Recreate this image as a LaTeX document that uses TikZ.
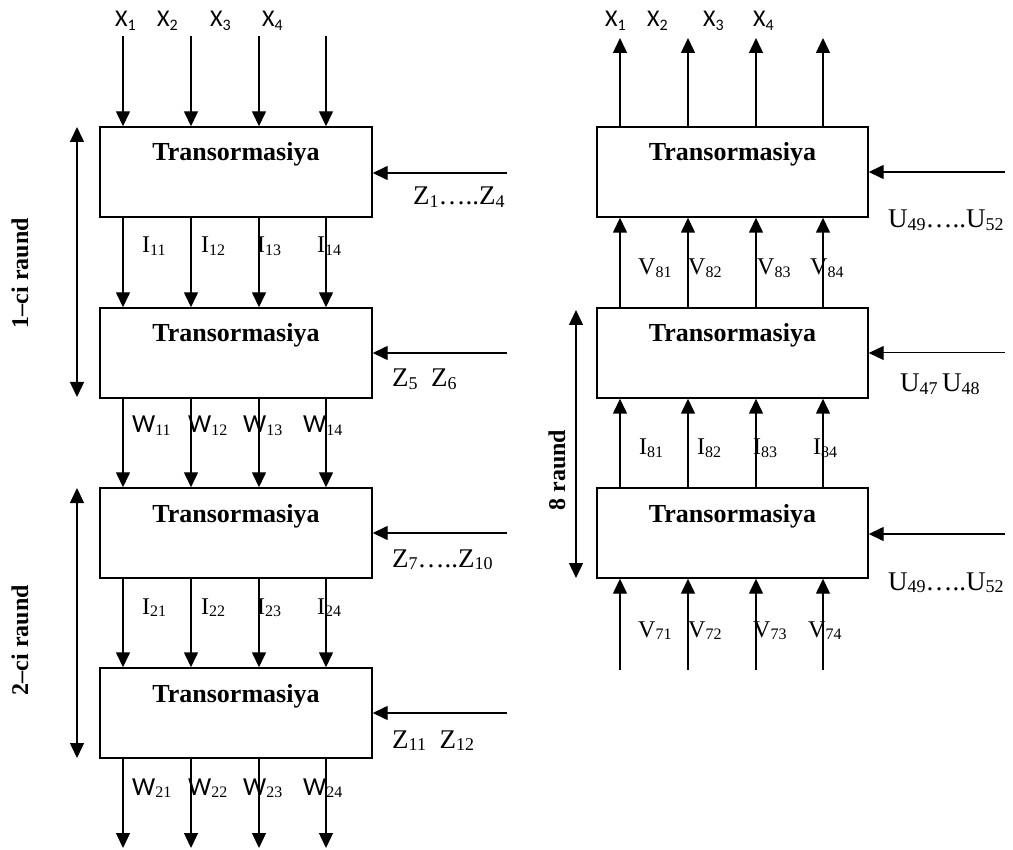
\documentclass[tikz,border=0pt]{standalone}
\usepackage{fontspec}
\setmainfont{Liberation Serif}
\newfontfamily\carl{Carlito}
\usetikzlibrary{arrows.meta}
\newcommand\subl[1]{{\fontsize{16}{16}\selectfont\raisebox{-2.5pt}{#1}}}
\newcommand\subz[1]{{\fontsize{18}{18}\selectfont\raisebox{-2.5pt}{#1}}}
\newcommand\subx[1]{{\fontsize{16}{16}\selectfont\raisebox{-3.5pt}{#1}}}
\begin{document}
\begin{tikzpicture}[x=1pt,y=-1pt,
  box/.style={draw, line width=1.4pt, minimum width=272pt, minimum height=90pt, inner sep=0pt},
  ttl/.style={font=\fontsize{26}{26}\selectfont\bfseries, anchor=base, inner sep=0pt},
  arr/.style={line width=1.4pt, -{Triangle[length=15pt,width=14pt]}},
  darr/.style={line width=1.4pt, {Triangle[length=15pt,width=14pt]}-{Triangle[length=15pt,width=14pt]}},
  lbl/.style={font=\fontsize{24}{24}\selectfont, anchor=base west, inner sep=0pt},
  zl/.style={font=\fontsize{27}{27}\selectfont, anchor=base west, inner sep=0pt},
  xl/.style={font=\carl\fontsize{24}{24}\selectfont, anchor=base west, inner sep=0pt},
  rnd/.style={font=\fontsize{24}{24}\selectfont\bfseries, rotate=90, inner sep=0pt}]
\useasboundingbox (0,0) rectangle (1013,850);

% ---------- left column boxes ----------
\node[box] (L1) at (236,172) {};
\node[box] (L2) at (236,353) {};
\node[box] (L3) at (236,533) {};
\node[box] (L4) at (236,713) {};
\node[ttl] (tL1) at (236,161) {Transormasiya};
\node[ttl] (tL2) at (236,342) {Transormasiya};
\node[ttl] (tL3) at (236,522) {Transormasiya};
\node[ttl] (tL4) at (236,702) {Transormasiya};

% columns
\coordinate (c1) at (123,36);
\coordinate (c2) at (191,36);
\coordinate (c3) at (259,36);
\coordinate (c4) at (326,36);
\coordinate (e1) at (123,848);
\coordinate (e2) at (191,848);
\coordinate (e3) at (259,848);
\coordinate (e4) at (326,848);

\foreach \c in {1,2,3,4} {
  \draw[arr] (c\c) -- (c\c |- L1.north);
  \draw[arr] (L1.south -| c\c) -- (L2.north -| c\c);
  \draw[arr] (L2.south -| c\c) -- (L3.north -| c\c);
  \draw[arr] (L3.south -| c\c) -- (L4.north -| c\c);
  \draw[arr] (L4.south -| e\c) -- (e\c);
}

% key inputs
\coordinate (z1) at (507,173);
\coordinate (z2) at (507,353);
\coordinate (z3) at (507,533);
\coordinate (z4) at (507,713);
\draw[arr] (z1) -- (z1 -| L1.east);
\draw[arr] (z2) -- (z2 -| L2.east);
\draw[arr] (z3) -- (z3 -| L3.east);
\draw[arr] (z4) -- (z4 -| L4.east);

% round arrows
\coordinate (d1a) at (77,127);
\coordinate (d1b) at (77,397);
\coordinate (d2a) at (77,488);
\coordinate (d2b) at (77,758);
\draw[darr] (d1a) -- (d1b);
\draw[darr] (d2a) -- (d2b);
\node[rnd] (r1) at (20,273) {1--ci raund};
\node[rnd] (r2) at (20,640) {2--ci raund};

% labels left
\node[xl] (x1) at (115,27) {X\subx{1}};
\node[xl] (x2) at (157,27) {X\subx{2}};
\node[xl] (x3) at (210,27) {X\subx{3}};
\node[xl] (x4) at (262,27) {X\subx{4}};

\node[lbl] (i11) at (142,253) {I\subl{11}};
\node[lbl] (i12) at (201,253) {I\subl{12}};
\node[lbl] (i13) at (257,253) {I\subl{13}};
\node[lbl] (i14) at (317,253) {I\subl{14}};

\node[lbl] (w11) at (132,433) {{\carl\fontsize{26}{26}\selectfont W}\subl{11}};
\node[lbl] (w12) at (188,433) {{\carl\fontsize{26}{26}\selectfont W}\subl{12}};
\node[lbl] (w13) at (243,433) {{\carl\fontsize{26}{26}\selectfont W}\subl{13}};
\node[lbl] (w14) at (303,433) {{\carl\fontsize{26}{26}\selectfont W}\subl{14}};

\node[lbl] (i21) at (142,614) {I\subl{21}};
\node[lbl] (i22) at (201,614) {I\subl{22}};
\node[lbl] (i23) at (257,614) {I\subl{23}};
\node[lbl] (i24) at (317,614) {I\subl{24}};

\node[lbl] (w21) at (132,795) {{\carl\fontsize{26}{26}\selectfont W}\subl{21}};
\node[lbl] (w22) at (188,795) {{\carl\fontsize{26}{26}\selectfont W}\subl{22}};
\node[lbl] (w23) at (243,795) {{\carl\fontsize{26}{26}\selectfont W}\subl{23}};
\node[lbl] (w24) at (303,795) {{\carl\fontsize{26}{26}\selectfont W}\subl{24}};

\node[zl] (zl1) at (413,205) {Z\subz{1}\ldots..Z\subz{4}};
\node[zl] (zl2) at (392,387) {Z\subz{5}\ \ Z\subz{6}};
\node[zl] (zl3) at (392,567) {Z\subz{7}\ldots..Z\subz{10}};
\node[zl] (zl4) at (392,748) {Z\subz{11}\ \ Z\subz{12}};

% ---------- right column ----------
\node[box, minimum width=271pt] (R1) at (732.5,172) {};
\node[box, minimum width=271pt] (R2) at (732.5,353) {};
\node[box, minimum width=271pt] (R3) at (732.5,533) {};
\node[ttl] (tR1) at (732.5,161) {Transormasiya};
\node[ttl] (tR2) at (732.5,342) {Transormasiya};
\node[ttl] (tR3) at (732.5,522) {Transormasiya};

\coordinate (rt1) at (620,38);
\coordinate (rt2) at (688,38);
\coordinate (rt3) at (756,38);
\coordinate (rt4) at (823,38);
\coordinate (rb1) at (620,670);
\coordinate (rb2) at (688,670);
\coordinate (rb3) at (756,670);
\coordinate (rb4) at (823,670);

\foreach \c in {1,2,3,4} {
  \draw[arr] (R1.north -| rt\c) -- (rt\c);
  \draw[arr] (R2.north -| rt\c) -- (R1.south -| rt\c);
  \draw[arr] (R3.north -| rt\c) -- (R2.south -| rt\c);
  \draw[arr] (rb\c) -- (R3.south -| rb\c);
}

\coordinate (u1) at (1005,172);
\coordinate (u2) at (1005,353);
\coordinate (u3) at (1005,534);
\draw[arr] (u1) -- (u1 -| R1.east);
\draw[line width=1pt, -{Triangle[length=15pt,width=14pt]}] (u2) -- (u2 -| R2.east);
\draw[arr] (u3) -- (u3 -| R3.east);

\coordinate (d3a) at (576,310);
\coordinate (d3b) at (576,578);
\draw[darr] (d3a) -- (d3b);
\node[rnd] (r3) at (557,470) {8 raund};

\node[xl] (rx1) at (605,27) {X\subx{1}};
\node[xl] (rx2) at (647,27) {X\subx{2}};
\node[xl] (rx3) at (703,27) {X\subx{3}};
\node[xl] (rx4) at (753,27) {X\subx{4}};

\node[lbl] (v81) at (638,275) {V\subl{81}};
\node[lbl] (v82) at (688,275) {V\subl{82}};
\node[lbl] (v83) at (757,275) {V\subl{83}};
\node[lbl] (v84) at (810,275) {V\subl{84}};

\node[lbl] (i81) at (639,455) {I\subl{81}};
\node[lbl] (i82) at (697,455) {I\subl{82}};
\node[lbl] (i83) at (753,455) {I\subl{83}};
\node[lbl] (i84) at (813,455) {I\subl{84}};

\node[lbl] (v71) at (638,637) {V\subl{71}};
\node[lbl] (v72) at (688,637) {V\subl{72}};
\node[lbl] (v73) at (753,637) {V\subl{73}};
\node[lbl] (v74) at (808,637) {V\subl{74}};

\node[zl] (ul1) at (888,228) {U\subz{49}\ldots..U\subz{52}};
\node[zl] (ul2) at (900,392) {U\subz{47}\,U\subz{48}};
\node[zl] (ul3) at (888,590) {U\subz{49}\ldots..U\subz{52}};
\end{tikzpicture}
\end{document}
